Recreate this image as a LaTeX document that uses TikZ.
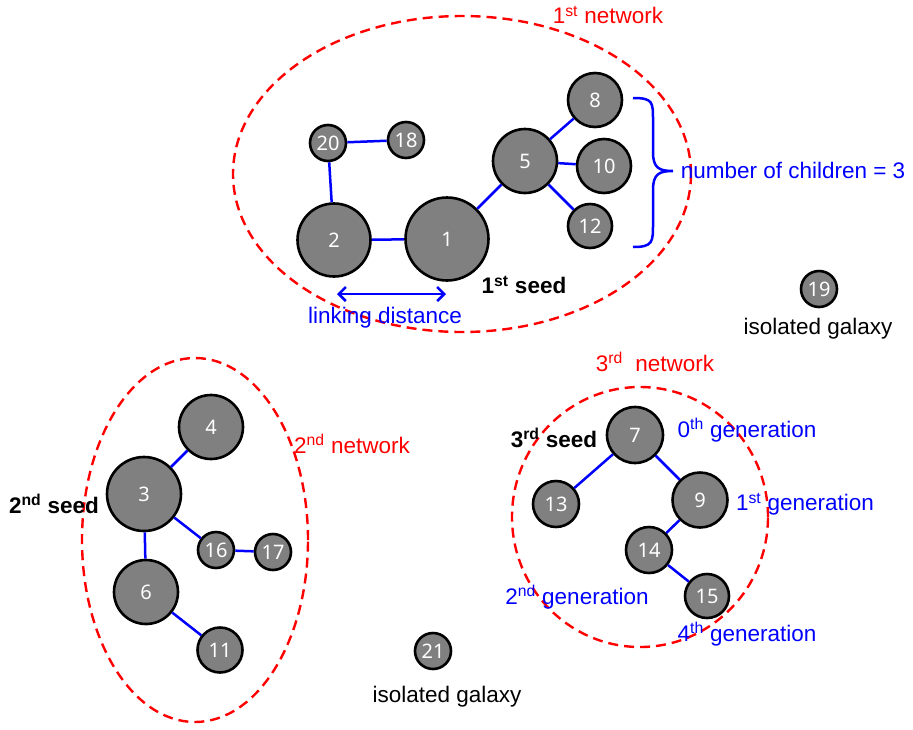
\documentclass[tikz,border=0pt]{standalone}
\usepackage{fontspec}
\setmainfont{Liberation Sans}
\newfontfamily\numfont{Noto Sans}
\usetikzlibrary{arrows.meta}

\begin{document}
\begin{tikzpicture}[x=1pt, y=-1pt,
	galaxy/.style={circle, draw=black, fill=gray, line width=2.6pt, inner sep=0pt,
		text=white, font=\numfont\fontsize{20}{22}\selectfont},
	link/.style={blue, line width=2.5pt},
	net/.style={red, line width=2.4pt, dash pattern=on 10pt off 6pt},
	lbl/.style={font=\fontsize{22.5}{26}\selectfont},
	netlbl/.style={lbl, text=red},
	genlbl/.style={lbl, text=blue},
	seedlbl/.style={lbl, font=\fontsize{22.5}{26}\selectfont\bfseries}]
	\useasboundingbox (0,0) rectangle (913,729);
	% networks
	\draw[net] (462,174) ellipse [x radius=229pt, y radius=158pt];
	\draw[net] (195,540) ellipse [x radius=113pt, y radius=182pt];
	\draw[net] (640,517) ellipse [x radius=128pt, y radius=130pt];
	% galaxies: number/x/y/diameter
	\foreach \n/\x/\y/\d in {1/447/239/83, 2/334/240/73, 20/328/143/36, 18/406/140/36,
			5/525/161/64, 8/595/100/54, 10/604/166/54, 12/590/226/44,
			19/819/289/36,
			4/211/427/64, 3/144/494/74, 16/216/550/36, 17/273/552/36,
			6/146/592/64, 11/220/650/45, 21/433/651/36,
			7/635/435/56, 13/556/504/46, 9/700/500/55, 14/649/550/46, 15/707/596/44}
		\node[galaxy, minimum size=\d] (g\n) at (\x,\y) {\n};
	\foreach \a/\b in {1/2, 2/20, 20/18, 1/5, 5/8, 5/10, 5/12,
			3/4, 3/16, 16/17, 3/6, 6/11, 7/13, 7/9, 9/14, 14/15}
		\draw[link] (g\a) -- (g\b);
	% first network labels
	\node[netlbl] (net1) at (608,15) {1\textsuperscript{st} network};
	\node[seedlbl] (seed1) at (524,285) {1\textsuperscript{st} seed};
	\coordinate (ldL) at (337,294);
	\coordinate (ldR) at (446,294);
	\draw[link, {Straight Barb[length=7pt,width=14pt]}-{Straight Barb[length=7pt,width=14pt]}] (ldL) -- (ldR);
	\node[genlbl] (ldist) at (385,318) {linking distance};
	\coordinate (brT) at (633,98);
	\draw[link] (brT) .. controls +(20,0) and +(0,-18) .. ++(20,22) -- ++(0,32)
		.. controls +(0,16) and +(-14,0) .. ++(20,19)
		.. controls +(-14,0) and +(0,-16) .. ++(-20,19) -- ++(0,34)
		.. controls +(0,18) and +(20,0) .. ++(-20,23);
	\node[genlbl] (nchild) at (793,170) {number of children = 3};
	\node[lbl] (iso19) at (818,329) {isolated galaxy};
	% second network labels
	\node[seedlbl] (seed2) at (54,504) {2\textsuperscript{nd} seed};
	\node[netlbl] (net2) at (352,444) {2\textsuperscript{nd} network};
	\node[lbl] (iso21) at (447,697) {isolated galaxy};
	% third network labels
	\node[netlbl] (net3) at (655,362) {3\textsuperscript{rd}\ \ network};
	\node[seedlbl] (seed3) at (554,438) {3\textsuperscript{rd} seed};
	\node[genlbl] (gen0) at (747,430) {0\textsuperscript{th} generation};
	\node[genlbl] (gen1) at (805,504) {1\textsuperscript{st} generation};
	\node[genlbl] (gen2) at (577,597) {2\textsuperscript{nd} generation};
	\node[genlbl] (gen4) at (747,634) {4\textsuperscript{th} generation};
\end{tikzpicture}
\end{document}
